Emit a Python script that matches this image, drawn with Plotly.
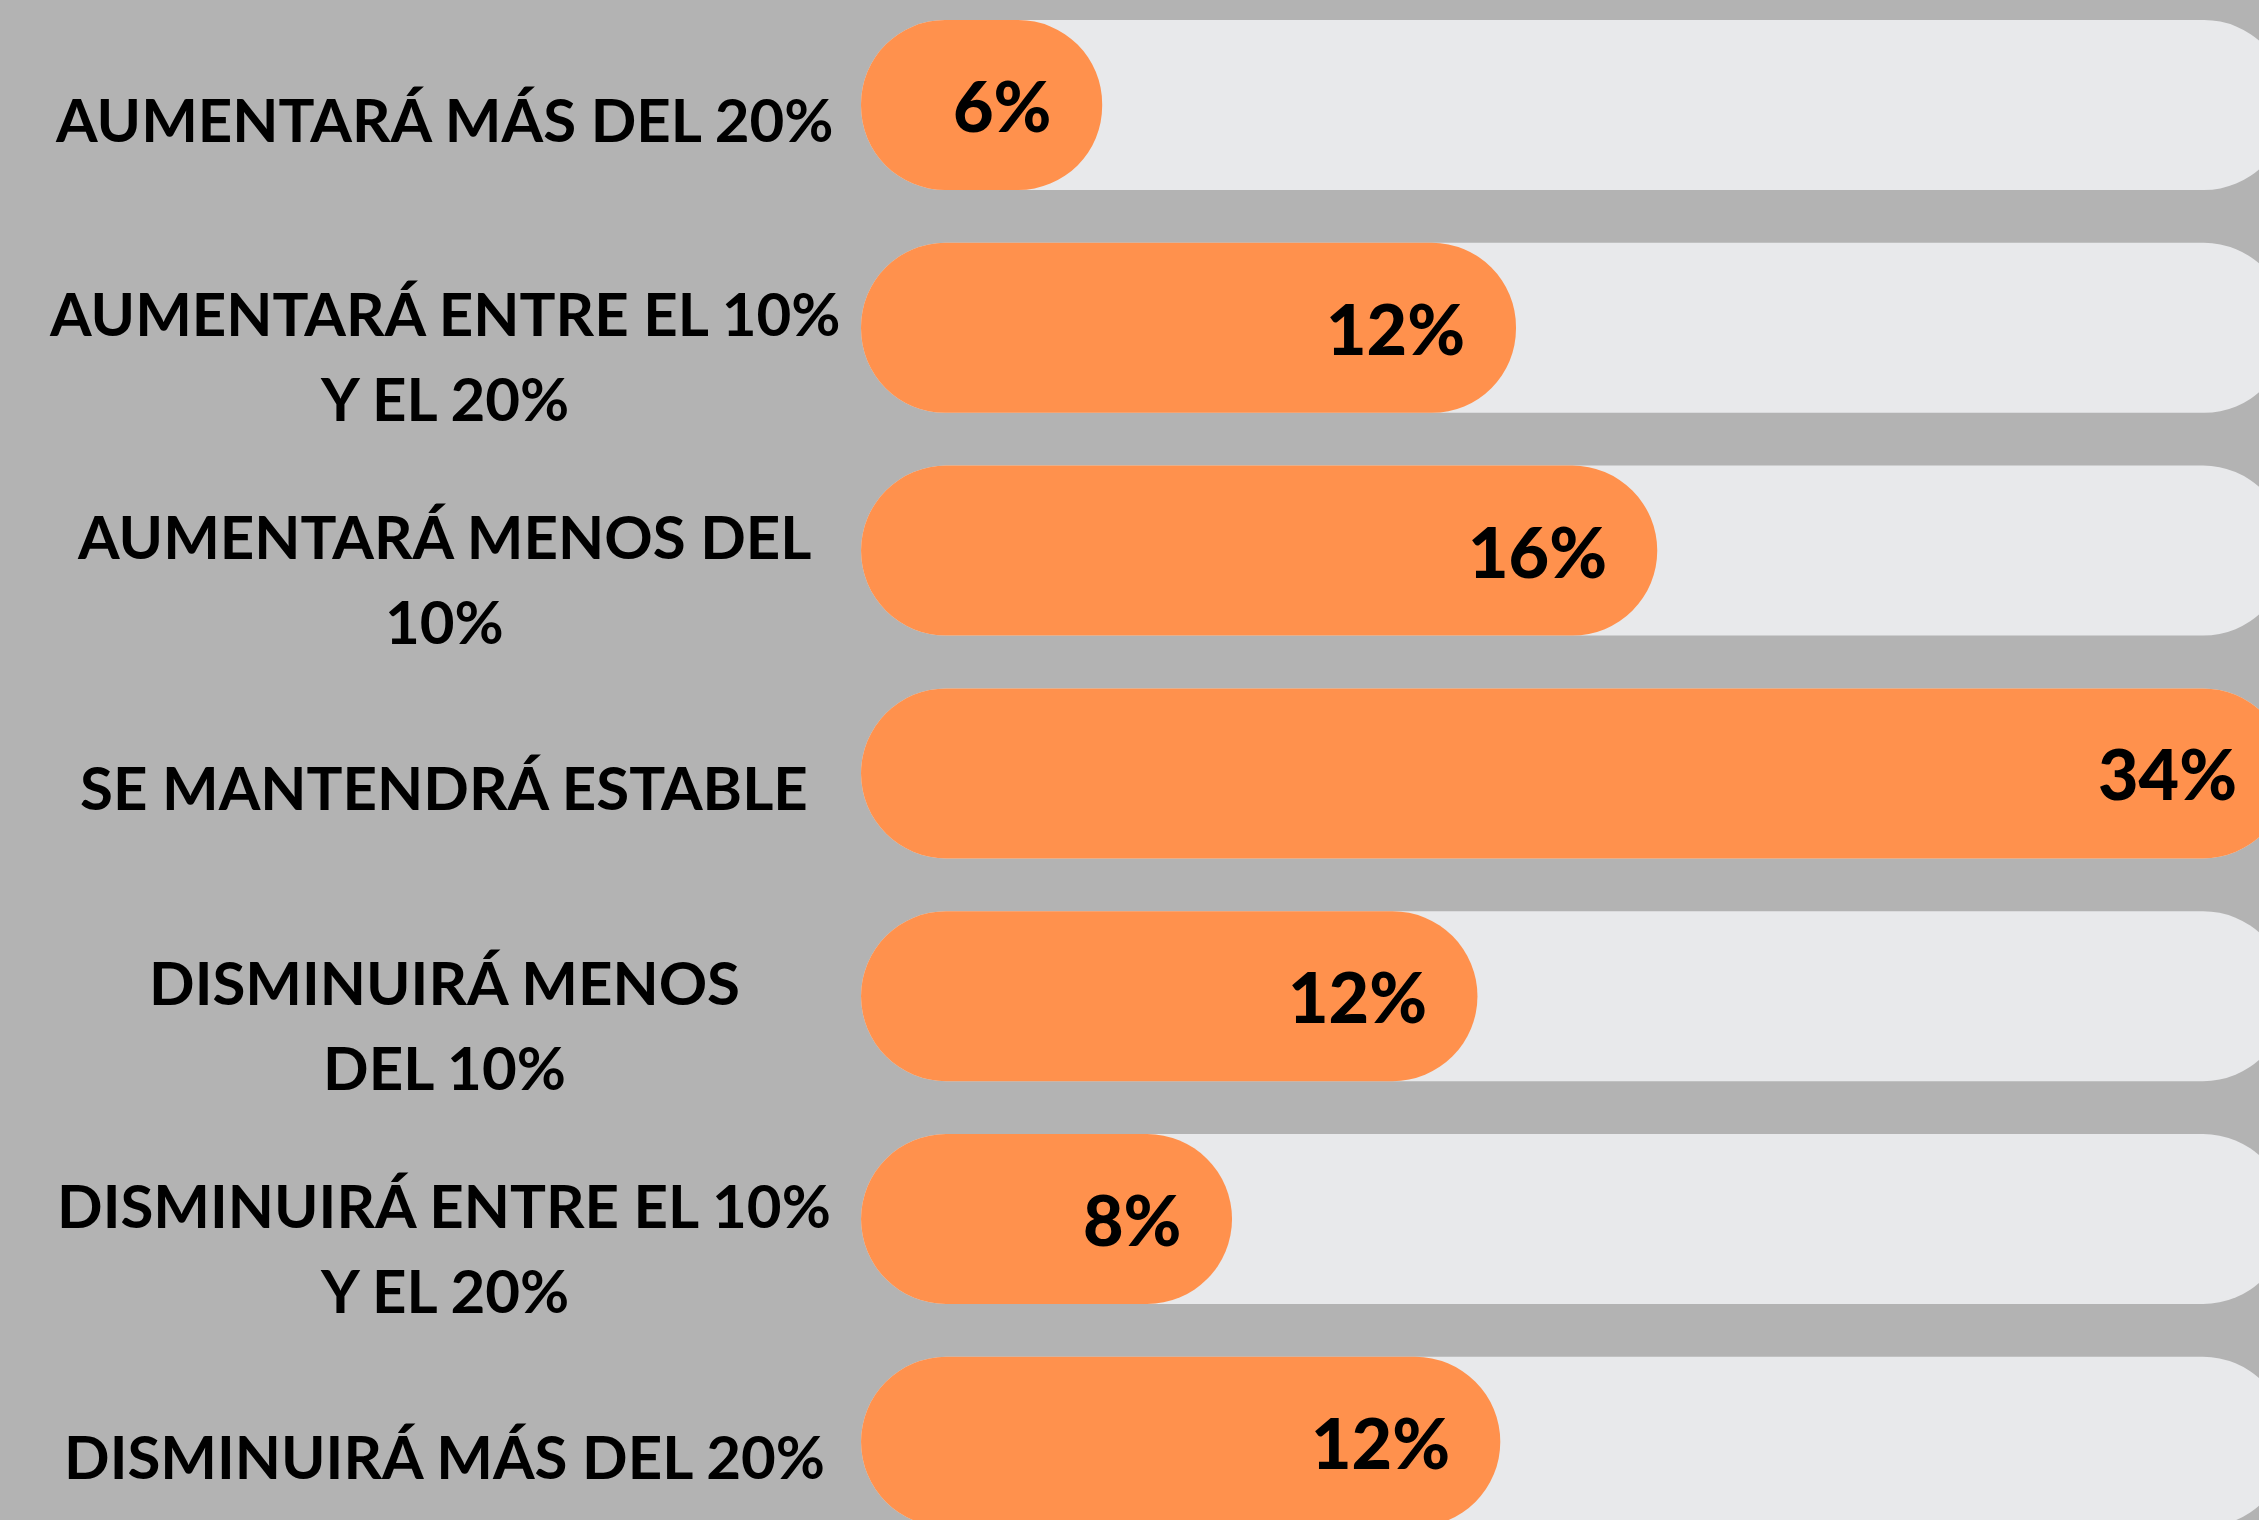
import plotly.graph_objects as go

# ---- data ----
categories = [
    "AUMENTARÁ MÁS DEL 20%",
    "AUMENTARÁ ENTRE EL 10%<br>Y EL 20%",
    "AUMENTARÁ MENOS DEL<br>10%",
    "SE MANTENDRÁ ESTABLE",
    "DISMINUIRÁ MENOS<br>DEL 10%",
    "DISMINUIRÁ ENTRE EL 10%<br>Y EL 20%",
    "DISMINUIRÁ MÁS DEL 20%",
]
values = [6, 12, 16, 34, 12, 8, 12]            # percentage shown on each bar
fill_share = [16.9, 45.9, 55.8, 100, 43.2, 26.0, 44.8]  # drawn fill length, % of track
track_full = [100] * len(categories)

# ---- styles ----
BG = "#b3b3b3"
TRACK = "#e8e9eb"
ORANGE = "#ff914d"
FONT = "Lato"
BAR_W = 0.763
LABEL_PAD = 3.4   # gap between value text and bar end, in axis units

fig = go.Figure()

for lengths, color in [(track_full, TRACK), (fill_share, ORANGE)]:
    fig.add_trace(go.Bar(
        y=categories, x=lengths, base=[0] * len(lengths),
        orientation="h", width=BAR_W,
        marker=dict(color=color, cornerradius="50%", line=dict(width=0)),
        hoverinfo="skip", showlegend=False,
    ))

annotations = []
for cat, val, f in zip(categories, values, fill_share):
    annotations.append(dict(
        x=f - LABEL_PAD, y=cat, xref="x", yref="y", text=f"{val}%", showarrow=False,
        xanchor="right", yanchor="middle",
        font=dict(family=FONT, size=70, color="#000000", weight=900),
    ))
    lines = cat.split("<br>")
    n = len(lines)
    mid_shift = -14 if n == 1 else -28
    for k, line in enumerate(lines):
        off = (k - (n - 1) / 2) * 85
        annotations.append(dict(
            x=444 / 2259, y=cat, xref="paper", yref="y", text=line, showarrow=False,
            xanchor="center", yanchor="middle", align="center", yshift=mid_shift - off,
            font=dict(family=FONT, size=60, color="#000000", weight="bold"),
        ))

fig.update_layout(
    width=2259, height=1520,
    margin=dict(l=0, r=0, t=0, b=0),
    paper_bgcolor=BG, plot_bgcolor=BG,
    barmode="overlay",
    xaxis=dict(range=[-60.34, 97.97], visible=False, fixedrange=True),
    yaxis=dict(type="category", categoryorder="array", categoryarray=categories,
               range=[6.351, -0.4713], visible=False, fixedrange=True),
    annotations=annotations,
)

fig.write_html("out.html", config={"displayModeBar": False},
               post_script="document.body.style.margin='0';document.body.style.overflow='hidden';")
